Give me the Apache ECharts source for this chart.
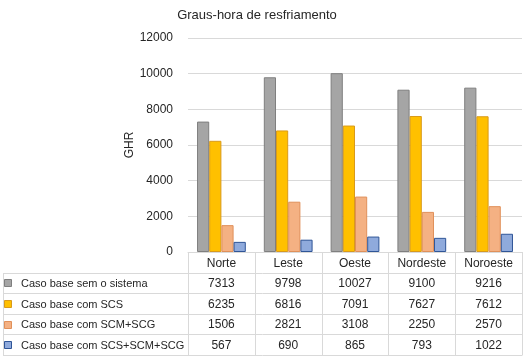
<!DOCTYPE html>
<html><head><meta charset="utf-8">
<script src="https://cdn.jsdelivr.net/npm/echarts@6/dist/echarts.min.js"></script>
<style>html,body{margin:0;padding:0;background:#fff}#c{width:528px;height:360px}</style>
</head><body><div id="c"></div>
<script>
const categories = ['Norte', 'Leste', 'Oeste', 'Nordeste', 'Noroeste'];
const seriesNames = ['Caso base sem o sistema', 'Caso base com SCS', 'Caso base com SCM+SCG', 'Caso base com SCS+SCM+SCG'];
const semSistema = [7313, 9798, 10027, 9100, 9216];
const comSCS = [6235, 6816, 7091, 7627, 7612];
const comSCMSCG = [1506, 2821, 3108, 2250, 2570];
const comTodos = [567, 690, 865, 793, 1022];
const yMin = 0, yMax = 12000, yStep = 2000;
const title = 'Graus-hora de resfriamento';
const yName = 'GHR';

const allSeries = [semSistema, comSCS, comSCMSCG, comTodos];
const fills = ['#a5a5a5', '#ffc000', '#f4b183', '#8faadc'];
const borders = ['#7f7f7f', '#d99a1a', '#e0905a', '#2f5597'];
const FONT = 'Liberation Sans';
const TXT = '#262626';

const chart = echarts.init(document.getElementById('c'), null, {renderer: 'canvas'});
const gridL = 188, gridR = 6, gridT = 38, gridB = 108;
chart.setOption({
  animation: false,
  backgroundColor: '#fff',
  grid: {left: gridL, right: gridR, top: gridT, bottom: gridB, containLabel: false},
  xAxis: {type: 'category', data: categories,
    axisLine: {show: true, lineStyle: {color: '#d9d9d9'}},
    axisTick: {show: false}, axisLabel: {show: false}},
  yAxis: {type: 'value', min: yMin, max: yMax, interval: yStep,
    name: yName, nameLocation: 'middle', nameGap: 52, nameRotate: 90, nameMoveOverlap: false,
    nameTextStyle: {fontFamily: FONT, fontSize: 12, color: TXT},
    axisLine: {show: false}, axisTick: {show: false},
    axisLabel: {fontFamily: FONT, fontSize: 12, color: TXT, margin: 15, formatter: v => String(v)},
    splitLine: {lineStyle: {color: '#d9d9d9'}}},
  series: allSeries.map((d, i) => ({
    type: 'bar', name: seriesNames[i], data: d,
    barGap: '0%', barCategoryGap: '27%',
    itemStyle: {color: fills[i], borderColor: borders[i], borderWidth: 1}
  }))
});

// data table below plot
const yTop = chart.convertToPixel({yAxisIndex: 0}, yMin);
const rowH = 20.6;
const colW = (528 - gridL - gridR) / categories.length;
const tblLeft = 3, tblRight = 528 - gridR;
const lc = '#d9d9d9';
const g = [{type: 'text', x: 257, y: 15, style: {text: title, fontFamily: FONT, fontSize: 13, fill: TXT, align: 'center', verticalAlign: 'middle'}}];
function line(x1, y1, x2, y2) {
  g.push({type: 'line', shape: {x1, y1, x2, y2}, style: {stroke: lc, lineWidth: 1}, silent: true});
}
const yBottom = yTop + rowH * 5;
for (let r = 1; r <= 5; r++) line(tblLeft, Math.round(yTop + rowH * r) + 0.5, tblRight, Math.round(yTop + rowH * r) + 0.5);
line(tblLeft + 0.5, Math.round(yTop + rowH), tblLeft + 0.5, Math.round(yBottom) + 0.5);
for (let c = 0; c <= categories.length; c++) {
  const x = Math.round(gridL + colW * c) + 0.5;
  line(x, yTop, x, Math.round(yBottom) + 0.5);
}
categories.forEach((cat, c) => {
  const cx = chart.convertToPixel({xAxisIndex: 0}, cat);
  g.push({type: 'text', x: cx, y: yTop + rowH * 0.5 + 1, style: {text: cat, fontFamily: FONT, fontSize: 12, fill: TXT, align: 'center', verticalAlign: 'middle'}});
  allSeries.forEach((d, i) => {
    g.push({type: 'text', x: cx, y: yTop + rowH * (i + 1.5) + 1, style: {text: String(d[c]), fontFamily: FONT, fontSize: 12, fill: TXT, align: 'center', verticalAlign: 'middle'}});
  });
});
seriesNames.forEach((nm, i) => {
  const cy = yTop + rowH * (i + 1.5);
  g.push({type: 'rect', shape: {x: 4.5, y: Math.round(cy - 3.5) + 0.5, width: 7, height: 7}, style: {fill: fills[i], stroke: borders[i], lineWidth: 1}});
  g.push({type: 'text', x: 21, y: cy + 1, style: {text: nm, fontFamily: FONT, fontSize: 11, fill: TXT, align: 'left', verticalAlign: 'middle'}});
});
chart.setOption({graphic: {elements: g}});
</script></body></html>
